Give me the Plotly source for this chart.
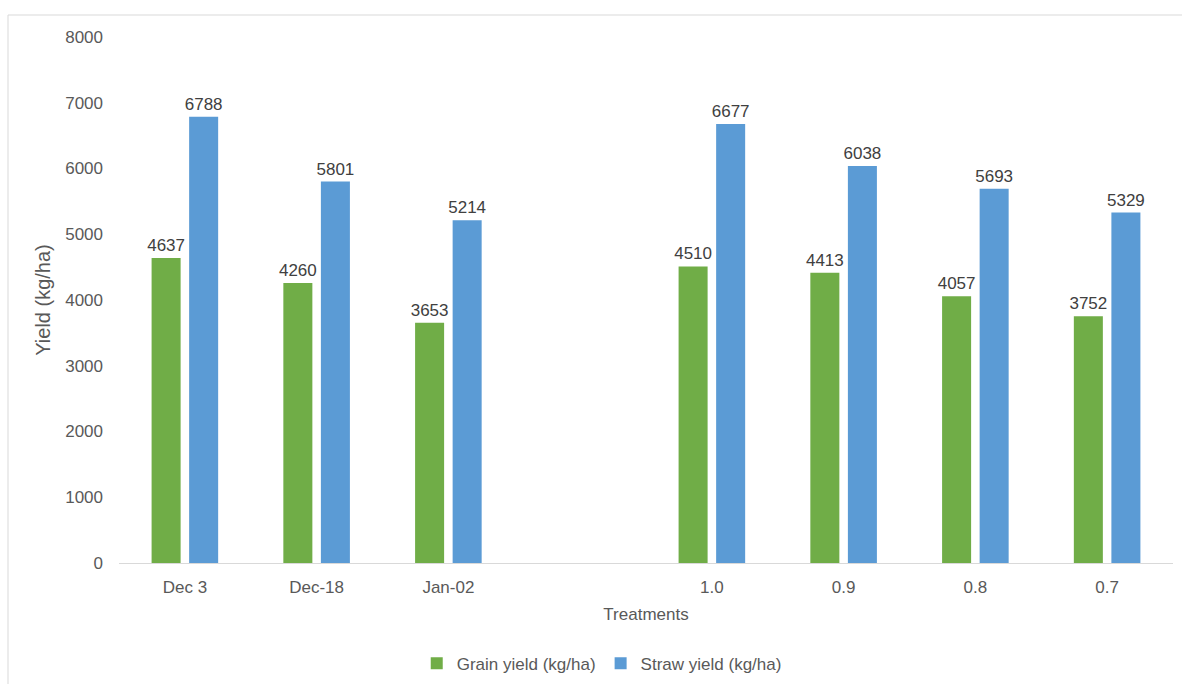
import plotly.graph_objects as go

categories = ["Dec 3", "Dec-18", "Jan-02", " ", "1.0", "0.9", "0.8", "0.7"]
grain_yield = [4637, 4260, 3653, None, 4510, 4413, 4057, 3752]
straw_yield = [6788, 5801, 5214, None, 6677, 6038, 5693, 5329]
y_ticks = [0, 1000, 2000, 3000, 4000, 5000, 6000, 7000, 8000]

FONT = "Liberation Sans, Arial, sans-serif"
GRAY = "#595959"

def labels(vals):
    return ["" if v is None else str(v) for v in vals]

fig = go.Figure()
fig.add_trace(go.Bar(
    x=categories, y=grain_yield, name="Grain yield (kg/ha)",
    marker=dict(color="#70AD47", line=dict(width=0)),
    text=labels(grain_yield), textposition="outside", cliponaxis=False,
    constraintext="none",
    textfont=dict(family=FONT, size=17, color="#404040"),
))
fig.add_trace(go.Bar(
    x=categories, y=straw_yield, name="Straw yield (kg/ha)",
    marker=dict(color="#5B9BD5", line=dict(width=0)),
    text=labels(straw_yield), textposition="outside", cliponaxis=False,
    constraintext="none",
    textfont=dict(family=FONT, size=17, color="#404040"),
))

fig.update_layout(
    width=1182, height=684,
    margin=dict(l=119, r=9, t=37, b=121, autoexpand=False),
    paper_bgcolor="white", plot_bgcolor="white",
    barmode="group", bargap=0.43, bargroupgap=0.227,
    font=dict(family=FONT, color=GRAY, size=17),
    xaxis=dict(
        type="category", categoryorder="array", categoryarray=categories,
        showline=True, linecolor="#D9D9D9", linewidth=1,
        showgrid=False, ticks="", tickfont=dict(size=17, color=GRAY),
        ticklabelstandoff=9,
        title=dict(text="Treatments", font=dict(size=17, color=GRAY), standoff=11),
    ),
    yaxis=dict(
        range=[0, 8000], tickvals=y_ticks, showgrid=False, zeroline=False,
        showline=False, ticks="", tickfont=dict(size=17, color=GRAY),
        ticklabelstandoff=15,
        title=dict(text="Yield (kg/ha)", font=dict(size=20, color=GRAY), standoff=9),
    ),
    legend=dict(
        orientation="h", x=0.458, xanchor="center", y=-0.157, yanchor="top",
        font=dict(size=17, color=GRAY), itemwidth=30,
    ),
    showlegend=True,
    shapes=[dict(
        type="rect", xref="paper", yref="paper",
        x0=-0.1053, x1=1.02, y0=-0.3, y1=1.0418,
        line=dict(color="#D9D9D9", width=1), layer="below",
    )],
)

fig.write_html("out.html")
